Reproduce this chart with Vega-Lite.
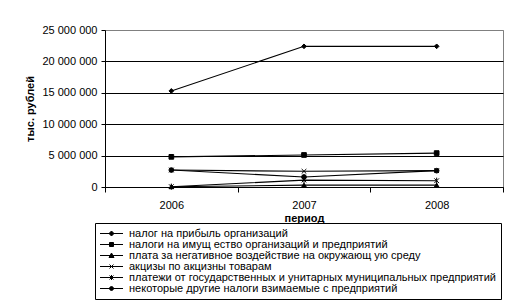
{
  "$schema": "https://vega.github.io/schema/vega-lite/v6.json",
  "autosize": "none",
  "width": 398,
  "height": 157,
  "padding": {"left": 105, "top": 30, "right": 10, "bottom": 118},
  "background": "white",
  "config": {
    "locale": {"number": {"decimal": ",", "thousands": " ", "grouping": [3], "currency": ["", ""]}},
    "view": {"stroke": "#808080", "strokeWidth": 1},
    "font": "Liberation Sans",
    "axis": {"labelFont": "Liberation Sans", "labelFontSize": 11, "labelColor": "black", "titleFont": "Liberation Sans", "titleFontSize": 11, "titleFontWeight": "bold", "titleColor": "black", "domainColor": "black", "tickColor": "black"}
  },
  "data": {"values": [
    {"year": "2006", "series": "налог на прибыль организаций", "value": 15300000},
    {"year": "2007", "series": "налог на прибыль организаций", "value": 22400000},
    {"year": "2008", "series": "налог на прибыль организаций", "value": 22400000},
    {"year": "2006", "series": "налоги на имущ ество организаций и предприятий", "value": 4800000},
    {"year": "2007", "series": "налоги на имущ ество организаций и предприятий", "value": 5100000},
    {"year": "2008", "series": "налоги на имущ ество организаций и предприятий", "value": 5400000},
    {"year": "2006", "series": "плата за негативное воздействие на окружающ ую среду", "value": 50000},
    {"year": "2007", "series": "плата за негативное воздействие на окружающ ую среду", "value": 300000},
    {"year": "2008", "series": "плата за негативное воздействие на окружающ ую среду", "value": 300000},
    {"year": "2006", "series": "акцизы по акцизны товарам", "value": 2700000},
    {"year": "2007", "series": "акцизы по акцизны товарам", "value": 2500000},
    {"year": "2008", "series": "акцизы по акцизны товарам", "value": 2600000},
    {"year": "2006", "series": "платежи от государственных и унитарных муниципальных предприятий", "value": 50000},
    {"year": "2007", "series": "платежи от государственных и унитарных муниципальных предприятий", "value": 1100000},
    {"year": "2008", "series": "платежи от государственных и унитарных муниципальных предприятий", "value": 1000000},
    {"year": "2006", "series": "некоторые другие налоги взимаемые с предприятий", "value": 2700000},
    {"year": "2007", "series": "некоторые другие налоги взимаемые с предприятий", "value": 1600000},
    {"year": "2008", "series": "некоторые другие налоги взимаемые с предприятий", "value": 2600000}
  ]},
  "encoding": {
    "x": {"field": "year", "type": "ordinal", "bandPosition": 0.5,
      "scale": {"type": "band", "paddingInner": 0, "paddingOuter": 0},
      "axis": {"title": "период", "labelAngle": 0, "tickBand": "extent", "tickSize": 5, "labelPadding": 7, "titlePadding": 2, "grid": false}},
    "y": {"field": "value", "type": "quantitative",
      "scale": {"domain": [0, 25000000], "nice": false},
      "axis": {"title": "тыс. рублей", "values": [0, 5000000, 10000000, 15000000, 20000000, 25000000], "format": ",d", "tickSize": 4, "labelPadding": 4, "titlePadding": 6, "grid": true, "gridColor": {"condition": {"test": "datum.value >= 25000000", "value": "#808080"}, "value": "black"}, "gridOpacity": 1}}
  },
  "resolve": {"scale": {"shape": "independent"}, "legend": {"shape": "independent"}},
  "layer": [
    {"mark": {"type": "line", "color": "black", "strokeWidth": 1.1},
     "encoding": {"detail": {"field": "series"}}},
    {"mark": {"type": "point", "fill": "black", "stroke": "black", "strokeWidth": 1, "opacity": 1, "size": 22},
     "encoding": {
       "shape": {"field": "series", "type": "nominal", "sort": null, "legend": null,
         "scale": {"domain": ["налог на прибыль организаций", "налоги на имущ ество организаций и предприятий", "плата за негативное воздействие на окружающ ую среду", "акцизы по акцизны товарам", "платежи от государственных и унитарных муниципальных предприятий", "некоторые другие налоги взимаемые с предприятий"],
           "range": ["diamond", "square", "triangle-up", "M-1,-1L1,1M-1,1L1,-1", "M-1,-1L1,1M-1,1L1,-1M0,-1.3V1.3", "circle"]}
       }
     }},
    {"transform": [{"filter": "datum.value < 0"}],
     "mark": {"type": "point", "fill": "black", "stroke": "black", "strokeWidth": 1, "opacity": 1, "size": 100},
     "encoding": {
       "shape": {"field": "series", "type": "nominal", "sort": null,
         "scale": {"domain": ["налог на прибыль организаций", "налоги на имущ ество организаций и предприятий", "плата за негативное воздействие на окружающ ую среду", "акцизы по акцизны товарам", "платежи от государственных и унитарных муниципальных предприятий", "некоторые другие налоги взимаемые с предприятий"],
           "range": ["M-2.3,0H2.3M0,-0.5L0.5,0L0,0.5L-0.5,0Z", "M-2.3,0H2.3M-0.4,-0.4H0.4V0.4H-0.4Z", "M-2.3,0H2.3M0,-0.5L0.5,0.4H-0.5Z", "M-2.3,0H2.3M-0.4,-0.4L0.4,0.4M-0.4,0.4L0.4,-0.4", "M-2.3,0H2.3M-0.4,-0.4L0.4,0.4M-0.4,0.4L0.4,-0.4M0,-0.5V0.5", "M-2.3,0H2.3M-0.4,0A0.4,0.4 0 1,0 0.4,0A0.4,0.4 0 1,0 -0.4,0Z"]},
         "legend": {"title": null, "orient": "none", "legendX": -10, "legendY": 193, "padding": 5,
           "strokeColor": "black", "fillColor": "white", "labelFont": "Liberation Sans", "labelFontSize": 11, "labelColor": "black", "labelLimit": 0,
           "symbolSize": 100, "labelOffset": 18, "rowPadding": -1, "symbolFillColor": "black", "symbolStrokeColor": "black", "symbolStrokeWidth": 1,
           "encoding": {"symbols": {
             "size": {"value": 100},
             "opacity": {"value": 1},
             "fill": {"value": "black"},
             "stroke": {"value": "black"},
             "strokeWidth": {"value": 1},
             "x": {"value": 11.5}
           }}}
       }
     }}
  ]
}
